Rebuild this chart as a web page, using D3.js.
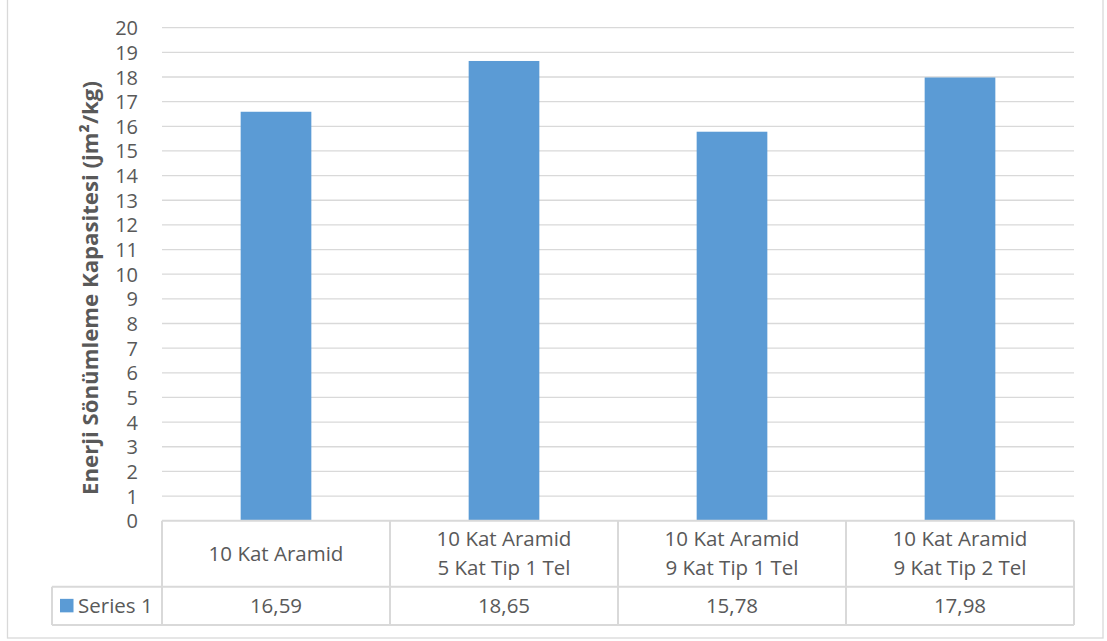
<!DOCTYPE html>
<html>
<head>
<meta charset="utf-8">
<script src="https://cdn.jsdelivr.net/npm/d3@7"></script>
<style>
  html, body { margin: 0; padding: 0; background: #fff; }
  svg { display: block; }
  text { font-family: "Open Sans", "Noto Sans", sans-serif; fill: #595959; }
</style>
</head>
<body>
<svg id="chart" width="1107" height="641"></svg>
<script>
// ---- data ----
const categories = [
  ["10 Kat Aramid"],
  ["10 Kat Aramid", "5 Kat Tip 1 Tel"],
  ["10 Kat Aramid", "9 Kat Tip 1 Tel"],
  ["10 Kat Aramid", "9 Kat Tip 2 Tel"]
];
const seriesName = "Series 1";
const values = [16.59, 18.65, 15.78, 17.98];
const valueLabels = ["16,59", "18,65", "15,78", "17,98"];
const yTicks = [0,1,2,3,4,5,6,7,8,9,10,11,12,13,14,15,16,17,18,19,20];
const yTitle = "Enerji Sönümleme Kapasitesi (jm²/kg)";

// ---- layout ----
const svg = d3.select("#chart");
const plot = { left: 162, right: 1074, top: 27.7, bottom: 520.7 };
const row1Bottom = 586.7, row2Bottom = 625;
const legendLeft = 52;
const barColor = "#5B9BD5";
const gridColor = "#D9D9D9";
const tableFont = "20.5px";

// frame
svg.append("rect")
  .attr("x", 7.5).attr("y", -2).attr("width", 1095.5).attr("height", 640)
  .attr("fill", "#fff").attr("stroke", gridColor).attr("stroke-width", 1.3);

const keys = categories.map((c, i) => "c" + i);
const x = d3.scaleBand().domain(keys).range([plot.left, plot.right])
  .paddingInner(0.69).paddingOuter(0.345);
const xCell = d3.scaleBand().domain(keys).range([plot.left, plot.right]);
const y = d3.scaleLinear().domain([0, 20]).range([plot.bottom, plot.top]);

// gridlines
svg.append("g").selectAll("line").data(yTicks.filter(t => t > 0)).join("line")
  .attr("x1", plot.left).attr("x2", plot.right)
  .attr("y1", d => y(d)).attr("y2", d => y(d))
  .attr("stroke", gridColor).attr("stroke-width", 1.3);

// y tick labels via axis
const yAxis = svg.append("g")
  .attr("transform", `translate(${plot.left - 24},0)`)
  .call(d3.axisLeft(y).tickValues(yTicks).tickSize(0).tickPadding(0).tickFormat(d3.format("d")));
yAxis.select(".domain").remove();
yAxis.selectAll("text")
  .style("font-family", '"Open Sans", sans-serif')
  .style("font-size", "20px").attr("fill", "#595959").attr("dy", "0.35em");

// bars
svg.append("g").selectAll("rect").data(values).join("rect")
  .attr("x", (d, i) => x(keys[i]))
  .attr("width", x.bandwidth())
  .attr("y", d => y(d))
  .attr("height", d => y(0) - y(d))
  .attr("fill", barColor);

// axis title
const title = svg.append("text")
  .attr("transform", `translate(98,288) rotate(-90)`)
  .attr("text-anchor", "middle")
  .style("font-weight", "bold").style("font-size", "19px")
  .text(yTitle);
const tl = title.node().getComputedTextLength();
title.style("font-size", (19 * 414 / tl).toFixed(2) + "px");

// data table
const tg = svg.append("g");
const line = (x1, y1, x2, y2) => tg.append("line")
  .attr("x1", x1).attr("y1", y1).attr("x2", x2).attr("y2", y2)
  .attr("stroke", gridColor).attr("stroke-width", 2);
line(plot.left, plot.bottom, plot.right, plot.bottom);
line(legendLeft, row1Bottom, plot.right, row1Bottom);
line(legendLeft, row2Bottom, plot.right, row2Bottom);
line(legendLeft, row1Bottom, legendLeft, row2Bottom);
keys.forEach(k => line(xCell(k), plot.bottom, xCell(k), row2Bottom));
line(plot.right, plot.bottom, plot.right, row2Bottom);

// category labels
const catMid = (plot.bottom + row1Bottom) / 2;
const lineH = 29;
categories.forEach((lines, i) => {
  const cx = xCell(keys[i]) + xCell.bandwidth() / 2;
  const t = tg.append("text").attr("text-anchor", "middle")
    .style("font-size", tableFont);
  lines.forEach((s, j) => {
    t.append("tspan").attr("x", cx)
      .attr("y", catMid + (j - (lines.length - 1) / 2) * lineH)
      .attr("dy", "0.35em").text(s);
  });
});

// value labels
const valMid = (row1Bottom + row2Bottom) / 2;
tg.selectAll("text.val").data(valueLabels).join("text").attr("class", "val")
  .attr("x", (d, i) => xCell(keys[i]) + xCell.bandwidth() / 2)
  .attr("y", valMid).attr("dy", "0.35em")
  .attr("text-anchor", "middle").style("font-size", tableFont)
  .text(d => d);

// legend key
tg.append("rect").attr("x", 60).attr("y", valMid - 7).attr("width", 13.5).attr("height", 13.5)
  .attr("fill", barColor);
tg.append("text").attr("x", 78).attr("y", valMid).attr("dy", "0.35em")
  .style("font-size", tableFont).text(seriesName);
</script>
</body>
</html>
